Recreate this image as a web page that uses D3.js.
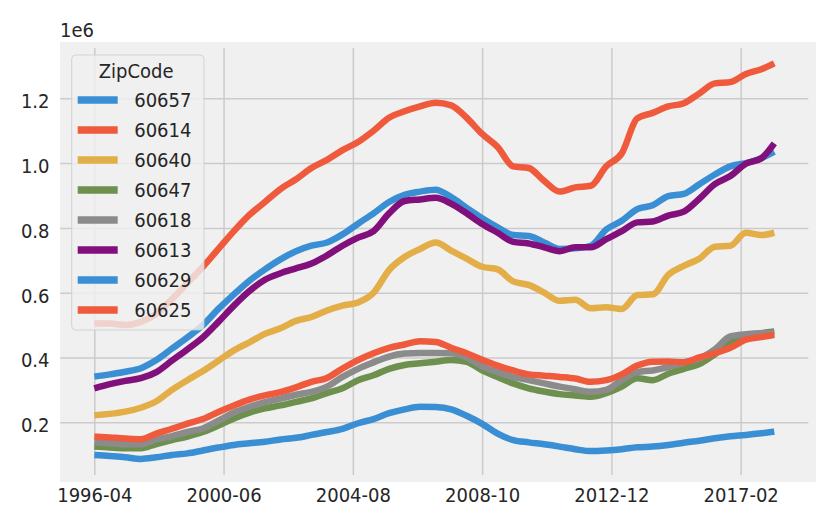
<!DOCTYPE html>
<html>
<head>
<meta charset="utf-8">
<script src="https://cdn.jsdelivr.net/npm/d3@7"></script>
<style>
  body { margin: 0; background: #fff; }
  svg text {
    font-family: "DejaVu Sans Condensed", "DejaVu Sans", sans-serif;
    font-stretch: semi-condensed;
    fill: #262626;
  }
</style>
</head>
<body>
<div id="main"></div>
<script>
// sampled every 6 months, values in units of 1e6
const dates = [
  "1996-04", "1996-10", "1997-04", "1997-10", "1998-04", "1998-10", "1999-04", "1999-10",
  "2000-04", "2000-10", "2001-04", "2001-10", "2002-04", "2002-10", "2003-04", "2003-10",
  "2004-04", "2004-10", "2005-04", "2005-10", "2006-04", "2006-10", "2007-04", "2007-10",
  "2008-04", "2008-10", "2009-04", "2009-10", "2010-04", "2010-10", "2011-04", "2011-10",
  "2012-04", "2012-10", "2013-04", "2013-10", "2014-04", "2014-10", "2015-04", "2015-10",
  "2016-04", "2016-10", "2017-04", "2017-10", "2018-03",
];

const zip60657 = [
  0.341, 0.348, 0.356, 0.367, 0.392, 0.427, 0.462, 0.5, 0.55, 0.595, 0.637, 0.672, 0.703, 0.728, 0.745,
  0.755, 0.78, 0.813, 0.845, 0.88, 0.902, 0.912, 0.918, 0.895, 0.862, 0.83, 0.802, 0.778, 0.775, 0.755,
  0.735, 0.737, 0.745, 0.795, 0.822, 0.858, 0.87, 0.898, 0.905, 0.935, 0.965, 0.99, 1.0, 1.015, 1.035,
];
const zip60614 = [
  0.505, 0.505, 0.5, 0.51, 0.535, 0.58, 0.63, 0.68, 0.735, 0.79, 0.84, 0.88, 0.92, 0.95, 0.985,
  1.01, 1.04, 1.065, 1.1, 1.14, 1.16, 1.175, 1.186, 1.178, 1.14, 1.09, 1.05, 0.99, 0.985, 0.945,
  0.912, 0.925, 0.93, 0.99, 1.03, 1.138, 1.155, 1.175, 1.185, 1.215, 1.246, 1.25, 1.275, 1.29, 1.308,
];
const zip60640 = [
  0.222, 0.226, 0.233, 0.245, 0.265, 0.3, 0.33, 0.358, 0.39, 0.422, 0.447, 0.473, 0.49, 0.513, 0.525,
  0.545, 0.56, 0.57, 0.6, 0.67, 0.71, 0.735, 0.755, 0.73, 0.705, 0.68, 0.672, 0.635, 0.624, 0.6,
  0.575, 0.578, 0.552, 0.555, 0.55, 0.593, 0.595, 0.655, 0.683, 0.705, 0.742, 0.745, 0.785, 0.778, 0.785,
];
const zip60647 = [
  0.125, 0.122, 0.12, 0.12, 0.133, 0.145, 0.156, 0.17, 0.19, 0.212, 0.23, 0.243, 0.252, 0.263, 0.274,
  0.29, 0.305, 0.33, 0.345, 0.365, 0.377, 0.382, 0.387, 0.392, 0.387, 0.36, 0.34, 0.32, 0.305, 0.295,
  0.287, 0.283, 0.279, 0.29, 0.31, 0.336, 0.33, 0.35, 0.365, 0.38, 0.41, 0.445, 0.465, 0.475, 0.48,
];
const zip60618 = [
  0.138, 0.135, 0.132, 0.132, 0.147, 0.157, 0.17, 0.181, 0.205, 0.23, 0.248, 0.262, 0.273, 0.285, 0.294,
  0.31, 0.34, 0.365, 0.385, 0.403, 0.412, 0.414, 0.414, 0.413, 0.4, 0.373, 0.355, 0.34, 0.33, 0.32,
  0.31, 0.302, 0.294, 0.3, 0.33, 0.355, 0.36, 0.37, 0.385, 0.397, 0.425, 0.465, 0.472, 0.475, 0.475,
];
const zip60613 = [
  0.305, 0.318, 0.328, 0.336, 0.355, 0.39, 0.425, 0.462, 0.51, 0.56, 0.605, 0.64, 0.66, 0.675, 0.69,
  0.715, 0.745, 0.77, 0.79, 0.845, 0.883, 0.888, 0.893, 0.875, 0.845, 0.812, 0.785, 0.757, 0.752, 0.74,
  0.728, 0.74, 0.74, 0.765, 0.79, 0.817, 0.82, 0.838, 0.85, 0.89, 0.935, 0.96, 0.998, 1.015, 1.061,
];
const zip60629 = [
  0.099, 0.096, 0.092, 0.087, 0.092, 0.099, 0.104, 0.113, 0.122, 0.13, 0.135, 0.14, 0.147, 0.152, 0.161,
  0.17, 0.18, 0.197, 0.21, 0.228, 0.24, 0.248, 0.247, 0.24, 0.22, 0.195, 0.165, 0.145, 0.138, 0.132,
  0.125, 0.117, 0.111, 0.113, 0.117, 0.123, 0.125, 0.13, 0.137, 0.143, 0.151, 0.157, 0.161, 0.166, 0.171,
];
const zip60625 = [
  0.156, 0.153, 0.15, 0.148, 0.165, 0.18, 0.196, 0.21, 0.232, 0.252, 0.27, 0.283, 0.293, 0.308, 0.325,
  0.337, 0.366, 0.392, 0.413, 0.43, 0.44, 0.45, 0.448, 0.43, 0.413, 0.393, 0.375, 0.36, 0.348, 0.344,
  0.34, 0.335, 0.325, 0.33, 0.348, 0.375, 0.387, 0.388, 0.385, 0.4, 0.413, 0.43, 0.455, 0.463, 0.47,
];

const zipCodes = ["60657", "60614", "60640", "60647", "60618", "60613", "60629", "60625"];
const seriesValues = [zip60657, zip60614, zip60640, zip60647, zip60618, zip60613, zip60629, zip60625];
const colors = ["#3a8fd4", "#f05a3c", "#e3ae47", "#6d904f", "#8b8b8b", "#810f7c", "#3a8fd4", "#f05a3c"];

const xTickLabels = ["1996-04", "2000-06", "2004-08", "2008-10", "2012-12", "2017-02"];
const yTicks = [0.2, 0.4, 0.6, 0.8, 1.0, 1.2];

const width = 834;
const height = 524;
const plot = { left: 60.3, right: 808.3, top: 48, bottom: 475 };
const fontSize = 20;

// months since 1996-04
const monthIndex = (d) => {
  const [yr, mo] = d.split("-").map(Number);
  return (yr - 1996) * 12 + (mo - 4);
};

const svg = d3.select("#main").append("svg").attr("width", width).attr("height", height);

// figure-like grey panel
svg
  .append("rect")
  .attr("x", plot.left - 0.3)
  .attr("y", plot.top - 6)
  .attr("width", 816 - plot.left + 0.3)
  .attr("height", plot.bottom - plot.top + 13)
  .attr("fill", "#f0f0f0");

const nMonths = monthIndex(dates[dates.length - 1]);
const xScale = d3
  .scaleLinear()
  .domain([-0.05 * nMonths, nMonths * 1.05])
  .range([plot.left, plot.right]);

const yScale = d3.scaleLinear().domain([0.0373, 1.3553]).range([plot.bottom, plot.top]);

// axes + grid
const xAxis = d3
  .axisBottom(xScale)
  .tickValues(xTickLabels.map(monthIndex))
  .tickFormat((d, i) => xTickLabels[i])
  .tickSize(-(plot.bottom - plot.top))
  .tickPadding(12.3);

const yAxis = d3
  .axisLeft(yScale)
  .tickValues(yTicks)
  .tickFormat(d3.format(".1f"))
  .tickSize(-(plot.right - plot.left))
  .tickPadding(10.8);

const gx = svg.append("g").attr("transform", `translate(0, ${plot.bottom})`).call(xAxis);
const gy = svg.append("g").attr("transform", `translate(${plot.left}, 0)`).call(yAxis);

[gx, gy].forEach((g) => {
  g.select(".domain").remove();
  g.selectAll(".tick line").attr("stroke", "#cbcbcb").attr("stroke-width", 1.5);
  g.selectAll(".tick text").style("font-size", fontSize + "px");
});
gy.selectAll(".tick text").attr("dy", "0.47em");

svg
  .append("text")
  .attr("x", 60)
  .attr("y", 37)
  .style("font-size", fontSize + "px")
  .text("1e6");

// series lines
const line = d3
  .line()
  .x((d) => xScale(monthIndex(d.date)))
  .y((d) => yScale(d.value))
  .curve(d3.curveMonotoneX);

zipCodes.forEach((zip, k) => {
  const pts = dates.map((date, i) => ({ date: date, value: seriesValues[k][i] }));
  svg
    .append("path")
    .datum(pts)
    .attr("d", line)
    .attr("fill", "none")
    .attr("stroke", colors[k])
    .attr("stroke-width", 6.5)
    .attr("stroke-linejoin", "round");
});

// legend
const legend = svg.append("g").attr("transform", "translate(71.7, 55)");

legend
  .append("rect")
  .attr("width", 132.3)
  .attr("height", 275)
  .attr("rx", 4)
  .attr("fill", "#f0f0f0")
  .attr("fill-opacity", 0.8)
  .attr("stroke", "#cccccc")
  .attr("stroke-opacity", 0.8)
  .attr("stroke-width", 1);

legend
  .append("text")
  .attr("x", 64.5)
  .attr("y", 23)
  .attr("text-anchor", "middle")
  .style("font-size", fontSize + "px")
  .text("ZipCode");

zipCodes.forEach((zip, k) => {
  const row = legend.append("g").attr("transform", `translate(0, ${45 + k * 30})`);
  row
    .append("line")
    .attr("x1", 6)
    .attr("x2", 46)
    .attr("stroke", colors[k])
    .attr("stroke-width", 7.5);
  row
    .append("text")
    .attr("x", 62.5)
    .attr("y", 7.3)
    .style("font-size", fontSize + "px")
    .text(zip);
});
</script>
</body>
</html>
